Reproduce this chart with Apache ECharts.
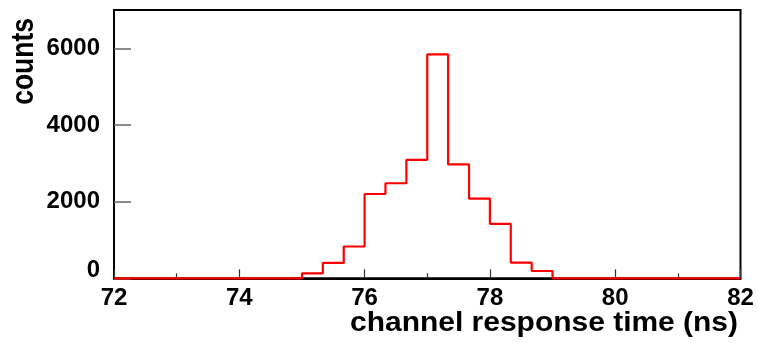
<!DOCTYPE html>
<html>
<head>
<meta charset="utf-8">
<script src="https://cdn.jsdelivr.net/npm/echarts@6/dist/echarts.min.js"></script>
<style>
  html, body { margin: 0; padding: 0; background: #fff; }
  #chart { width: 757px; height: 345px; }
</style>
</head>
<body>
<div id="chart"></div>
<script>
// Histogram bin edges (ns), 30 bins of 1/3 ns from 72 to 82
const binEdges = [72, 72.333, 72.667, 73, 73.333, 73.667, 74, 74.333, 74.667, 75,
                  75.333, 75.667, 76, 76.333, 76.667, 77, 77.333, 77.667, 78, 78.333,
                  78.667, 79, 79.333, 79.667, 80, 80.333, 80.667, 81, 81.333, 81.667, 82];
// Counts per bin
const counts = [0, 0, 0, 0, 0, 0, 0, 0, 0,
                130, 400, 830, 2200, 2480, 3090, 5840, 2970, 2080, 1420, 410, 190,
                0, 0, 0, 0, 0, 0, 0, 0, 0];
const xTickLabels = [72, 74, 76, 78, 80, 82];
const yTickLabels = [0, 2000, 4000, 6000];
const xTitle = 'channel response time (ns)';
const yTitle = 'counts';

// Step-line points: left edge of each bin with its count, plus closing right edge
const stepData = counts.map((c, i) => [binEdges[i], c]);
stepData.push([binEdges[binEdges.length - 1], counts[counts.length - 1]]);

const FONT = '"Liberation Sans", Arial, Helvetica, sans-serif';
const chart = echarts.init(document.getElementById('chart'), null, { renderer: 'canvas' });
chart.setOption({
  animation: false,
  backgroundColor: '#ffffff',
  grid: {
    left: 114, right: 16.5, top: 10, bottom: 66.7,
    show: true, borderColor: '#000', borderWidth: 2, backgroundColor: 'transparent'
  },
  xAxis: {
    type: 'value', min: 72, max: 82, interval: 2,
    axisLine: { show: true, onZero: false, lineStyle: { color: '#000', width: 2 } },
    axisTick: { show: true, inside: true, length: 9, lineStyle: { color: '#333', width: 1.2 } },
    minorTick: { show: true, splitNumber: 2, length: 5, lineStyle: { color: '#333', width: 1.2 } },
    splitLine: { show: false },
    axisLabel: {
      margin: 8, color: '#000', fontFamily: FONT, fontWeight: 'bold', fontSize: 24,
      customValues: xTickLabels
    }
  },
  yAxis: {
    type: 'value', min: 0, max: 7000, interval: 2000,
    axisLine: { show: true, lineStyle: { color: '#000', width: 2 } },
    axisTick: { show: true, inside: true, length: 17, lineStyle: { color: '#666', width: 1.5 },
                customValues: yTickLabels },
    splitLine: { show: false },
    axisLabel: {
      margin: 14, color: '#000', fontFamily: FONT, fontWeight: 'bold', fontSize: 24,
      customValues: yTickLabels,
      formatter: v => (v === 0 ? '{z|0}' : String(v)),
      rich: { z: { fontFamily: FONT, fontWeight: 'bold', fontSize: 24, color: '#000', padding: [0, 0, 16, 0] } }
    }
  },
  graphic: [
    {
      type: 'text', x: 25, y: 18, rotation: Math.PI / 2, scaleY: 1.15,
      style: { text: yTitle, fill: '#000', font: 'bold 26.5px ' + FONT, textAlign: 'right', textVerticalAlign: 'middle' }
    },
    {
      type: 'text', x: 738, y: 337, scaleX: 1.07,
      style: { text: xTitle, fill: '#000', font: 'bold 28px ' + FONT, textAlign: 'right', textVerticalAlign: 'bottom' }
    }
  ],
  series: [{
    type: 'line',
    data: stepData,
    step: 'end',
    showSymbol: false,
    clip: false,
    z: 5,
    lineStyle: { color: '#ff0000', width: 2.2 }
  }]
});
</script>
</body>
</html>
